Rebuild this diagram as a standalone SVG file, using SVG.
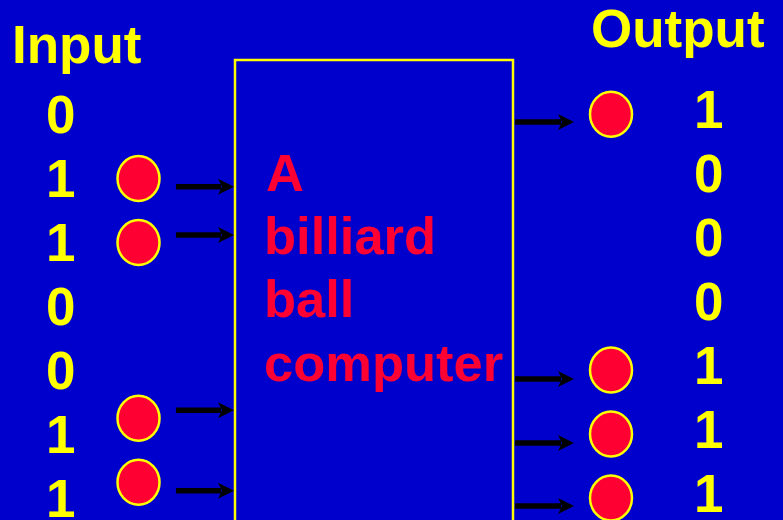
<svg xmlns="http://www.w3.org/2000/svg" width="783" height="520" viewBox="0 0 783 520">
<defs>
<style>
.lbl{font-family:"Liberation Sans",Arial,sans-serif;font-weight:bold;font-size:53px;fill:#FFFF00}
.red{font-family:"Liberation Sans",Arial,sans-serif;font-weight:bold;font-size:52.5px;fill:#FF0033}
.ball{fill:#FF0033;stroke:#FFFF00;stroke-width:2.5}
.shaft{stroke:#000;stroke-width:5.5;fill:none}
.head{fill:#000}
</style>
<path id="ah" d="M-16,-8 L0,0 L-16,8 L-12,0 Z"/>
</defs>
<rect width="783" height="520" fill="#0000CC"/>
<g id="computer">
<rect x="235" y="60" width="278" height="480" fill="none" stroke="#FFFF00" stroke-width="2.5"/>
<text class="red" x="266" y="191">A</text>
<text class="red" x="264" y="254">billiard</text>
<text class="red" x="264" y="317">ball</text>
<text class="red" x="264" y="381">computer</text>
</g>
<g id="input-labels">
<text class="lbl" x="12" y="63">Input</text>
<text class="lbl" x="46" y="133">0</text>
<text class="lbl" x="46" y="197">1</text>
<text class="lbl" x="46" y="261">1</text>
<text class="lbl" x="46" y="325">0</text>
<text class="lbl" x="46" y="389">0</text>
<text class="lbl" x="46" y="453">1</text>
<text class="lbl" x="46" y="517">1</text>
</g>
<g id="output-labels">
<text class="lbl" x="591" y="47">Output</text>
<text class="lbl" x="694" y="128">1</text>
<text class="lbl" x="694" y="192">0</text>
<text class="lbl" x="694" y="256">0</text>
<text class="lbl" x="694" y="320">0</text>
<text class="lbl" x="694" y="384">1</text>
<text class="lbl" x="694" y="448">1</text>
<text class="lbl" x="694" y="512">1</text>
</g>
<g id="input-balls">
<ellipse class="ball" cx="138.5" cy="178.5" rx="21" ry="22.5"/>
<ellipse class="ball" cx="138.5" cy="242.5" rx="21" ry="22.5"/>
<ellipse class="ball" cx="138.5" cy="418.3" rx="21" ry="22.5"/>
<ellipse class="ball" cx="138.5" cy="482.2" rx="21" ry="22.5"/>
</g>
<g id="output-balls">
<ellipse class="ball" cx="611" cy="114.3" rx="21" ry="22.5"/>
<ellipse class="ball" cx="611" cy="370" rx="21" ry="22.5"/>
<ellipse class="ball" cx="611" cy="434" rx="21" ry="22.5"/>
<ellipse class="ball" cx="611" cy="498" rx="21" ry="22.5"/>
</g>
<g id="connectors">
<line class="shaft" x1="176" y1="186.7" x2="221" y2="186.7"/><use href="#ah" class="head" x="234" y="186.7"/>
<line class="shaft" x1="176" y1="235" x2="221" y2="235"/><use href="#ah" class="head" x="234" y="235"/>
<line class="shaft" x1="176" y1="410.3" x2="221" y2="410.3"/><use href="#ah" class="head" x="234" y="410.3"/>
<line class="shaft" x1="176" y1="490.7" x2="221" y2="490.7"/><use href="#ah" class="head" x="234" y="490.7"/>
<line class="shaft" x1="515" y1="122" x2="561" y2="122"/><use href="#ah" class="head" x="574" y="122"/>
<line class="shaft" x1="515" y1="379" x2="561" y2="379"/><use href="#ah" class="head" x="574" y="379"/>
<line class="shaft" x1="515" y1="443" x2="561" y2="443"/><use href="#ah" class="head" x="574" y="443"/>
<line class="shaft" x1="515" y1="506" x2="561" y2="506"/><use href="#ah" class="head" x="574" y="506"/>
</g>
</svg>
